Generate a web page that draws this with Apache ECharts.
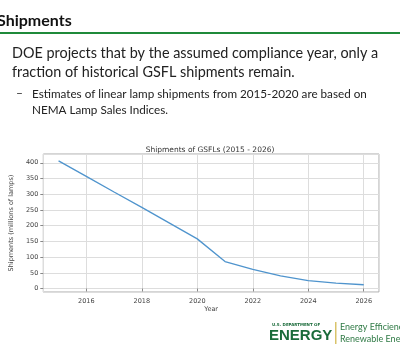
<!DOCTYPE html>
<html lang="en">
<head>
    <meta charset="UTF-8">
    <title>Shipments</title>
    <script src="https://cdn.jsdelivr.net/npm/echarts@6/dist/echarts.min.js"></script>
    <style>
        html, body { margin: 0; padding: 0; background: #fff; }
    </style>
</head>
<body>
<div id="main" style="width:400px;height:351px;"></div>
<script type="text/javascript">
    // data
    var years = [2015, 2016, 2017, 2018, 2019, 2020, 2021, 2022, 2023, 2024, 2025, 2026];
    var shipments = [406, 357, 307, 258, 208, 158, 86, 61, 40, 25, 17, 12];
    var xTickLabels = [2016, 2018, 2020, 2022, 2024, 2026];
    var yTickLabels = [0, 50, 100, 150, 200, 250, 300, 350, 400];

    var points = [];
    for (var i = 0; i < years.length; i++) {
        points.push([years[i], shipments[i]]);
    }

    var myChart = echarts.init(document.getElementById('main'));
    var lbl = {fontFamily: 'DejaVu Sans', fontSize: 6.5, color: '#444'};

    var option = {
        animation: false,
        title: {
            text: 'Shipments of GSFLs (2015 - 2026)',
            left: 205, top: 141, textAlign: 'center',
            textStyle: {fontFamily: 'DejaVu Sans', fontSize: 7.5, fontWeight: 'normal', color: '#333'}
        },
        grid: {left: 32, top: 154, right: 21, bottom: 59, show: true, borderColor: '#aaa', borderWidth: 1},
        xAxis: {
            type: 'value', min: 2014.45, max: 2026.55, splitNumber: 6,
            name: 'Year', nameLocation: 'middle', nameGap: 14,
            nameTextStyle: {fontFamily: 'DejaVu Sans', fontSize: 6.5, color: '#444'},
            axisLine: {show: false},
            axisTick: {show: true, length: 3, lineStyle: {color: '#888'}},
            axisLabel: Object.assign({
                margin: 6, showMinLabel: false, showMaxLabel: false,
                formatter: function (v) { return xTickLabels.indexOf(v) >= 0 ? String(v) : ''; }
            }, lbl),
            splitLine: {show: true, lineStyle: {color: '#ddd', width: 1}}
        },
        yAxis: {
            type: 'value', min: -11, max: 428, splitNumber: 9,
            name: 'Shipments (millions of lamps)', nameLocation: 'middle', nameGap: 21,
            nameTextStyle: {fontFamily: 'DejaVu Sans', fontSize: 6.5, color: '#444'},
            axisLine: {show: false},
            axisTick: {show: true, length: 3, lineStyle: {color: '#888'}},
            axisLabel: Object.assign({
                margin: 5, showMinLabel: false, showMaxLabel: false,
                formatter: function (v) { return yTickLabels.indexOf(v) >= 0 ? String(v) : ''; }
            }, lbl),
            splitLine: {show: true, lineStyle: {color: '#ddd', width: 1}}
        },
        series: [{
            type: 'line', data: points, showSymbol: false,
            lineStyle: {color: '#4f94cd', width: 1.3}
        }],
        graphic: [
            {type: 'text', left: -3, top: 13,
                style: {text: 'Shipments', font: 'bold 16px Lato', fill: '#111'}},
            {type: 'rect', shape: {x: 0, y: 32, width: 400, height: 2}, style: {fill: '#1f8a3a'}},
            {type: 'text', left: 12, top: 46,
                style: {text: 'DOE projects that by the assumed compliance year, only a',
                    font: '14.4px Lato', fill: '#222'}},
            {type: 'text', left: 12, top: 65,
                style: {text: 'fraction of historical GSFL shipments remain.',
                    font: '14.4px Lato', fill: '#222'}},
            {type: 'text', left: 16, top: 87,
                style: {text: '\u2013', font: '12px Lato', fill: '#222'}},
            {type: 'text', left: 32, top: 88,
                style: {text: 'Estimates of linear lamp shipments from 2015-2020 are based on',
                    font: '11.7px Lato', fill: '#222'}},
            {type: 'text', left: 32, top: 104,
                style: {text: 'NEMA Lamp Sales Indices.', font: '11.7px Lato', fill: '#222'}},
            // DOE logo
            {type: 'text', left: 272, top: 323,
                style: {text: 'U.S. DEPARTMENT OF', font: 'bold 4px "DejaVu Sans"', fill: '#1a6b3a'}},
            {type: 'text', left: 269, top: 328,
                style: {text: 'ENERGY', font: 'bold 15px "Liberation Sans"', fill: '#1a6b3a'}},
            {type: 'rect', shape: {x: 335, y: 322, width: 1.5, height: 22}, style: {fill: '#d9c36a'}},
            {type: 'text', left: 340, top: 323,
                style: {text: 'Energy Efficiency', font: '9px Lato', fill: '#2f7a45'}},
            {type: 'text', left: 340, top: 335,
                style: {text: 'Renewable Energy', font: '9px Lato', fill: '#2f7a45'}}
        ]
    };

    myChart.setOption(option);
</script>
</body>
</html>
